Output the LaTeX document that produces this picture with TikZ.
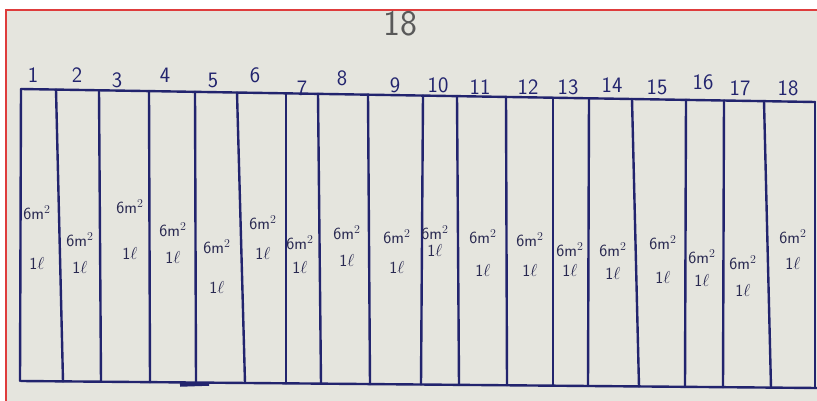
\documentclass[tikz,border=0pt]{standalone}
\usepackage{amsmath}
\usepackage{xcolor}
\usepackage{tikz}

\definecolor{paper}{RGB}{229,229,222}
\definecolor{pen}{RGB}{34,36,110}
\definecolor{ink}{RGB}{40,40,80}
\definecolor{frame}{RGB}{222,60,60}

\tikzset{
  stripline/.style={pen, line width=2.4pt, line cap=round},
  stripnum/.style={pen, font=\sffamily\fontsize{22}{24}\selectfont, inner sep=0pt},
  striptext/.style={ink, font=\sffamily\fontsize{17}{19}\selectfont, inner sep=0pt}
}

\begin{document}
\begin{tikzpicture}[x=1pt, y=-1pt]

\useasboundingbox (0,0) rectangle (817,401);
\fill[white] (0,0) rectangle (817,401);
\fill[paper] (6,10) rectangle (817,401);
\draw[frame, line width=1.4pt] (817,10) -- (6,10) -- (6,401);

\node[gray!70!black, font=\sffamily\fontsize{36}{38}\selectfont, inner sep=0pt] (title) at (400,24) {18};

% outline of the field
\draw[stripline] (21,89) -- (815,102);
\draw[stripline] (21,381) -- (817,388);

% dividing lines, top x / bottom x
\foreach \xt/\xb in {
21/20, 56/63, 99/101, 149/150, 195/196, 237/245, 286/286, 318/321,
368/370, 423/421, 457/459, 506/507, 553/553, 589/588, 632/639,
686/685, 724/723, 764/771, 815/815
}{
    \draw[stripline] ({\xt},{89+0.0163*(\xt-21)}) -- ({\xb},{381+0.0088*(\xb-21)});
}

% pen mark on the bottom line
\draw[pen, line width=3.5pt] (180,385) -- (209,384);

% strip numbers
\foreach \i/\x/\y in {
1/33/75, 2/77/75, 3/117/80, 4/165/75, 5/213/80, 6/255/75, 7/302/88,
8/342/78, 9/395/85, 10/438/85, 11/480/87, 12/528/87, 13/568/87,
14/612/85, 15/657/87, 16/703/82, 17/740/88, 18/788/88
}{
    \node[stripnum] (n\i) at (\x,\y) {\i};
}

% area and volume in each strip
\foreach \i/\x/\ya/\yb in {
1/37/213/263, 2/80/240/267, 3/130/207/253, 4/173/230/257, 5/217/247/287,
6/263/223/253, 7/300/243/267, 8/347/233/260, 9/397/237/267,
10/435/233/250, 11/483/237/270, 12/530/240/270, 13/570/250/270,
14/613/250/273, 15/663/243/277, 16/702/257/280, 17/743/263/290,
18/793/237/263
}{
    \node[striptext] (a\i) at (\x,\ya) {6m$^2$};
    \node[striptext] (b\i) at (\x,\yb) {1$\ell$};
}

\end{tikzpicture}
\end{document}
